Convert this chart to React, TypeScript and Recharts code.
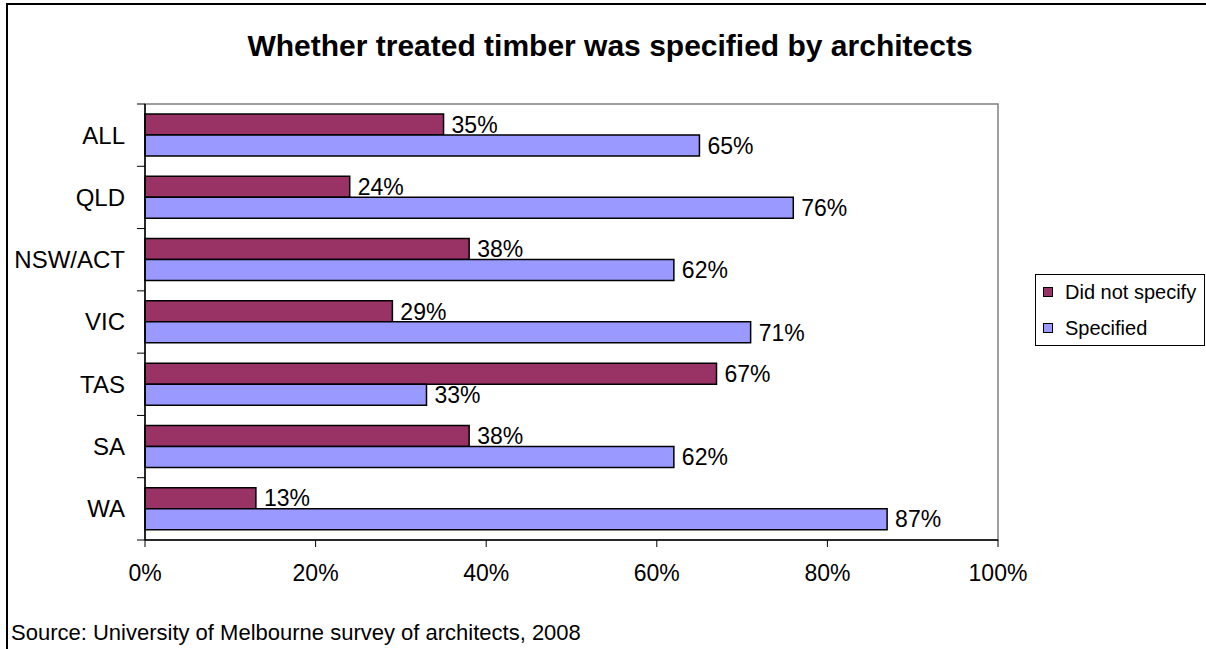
import { BarChart, Bar, XAxis, YAxis, LabelList, ReferenceArea } from 'recharts';

// values (percent of architects)
const categories = ['ALL', 'QLD', 'NSW/ACT', 'VIC', 'TAS', 'SA', 'WA'];
const didNotSpecify = [35, 24, 38, 29, 67, 38, 13];
const specified = [65, 76, 62, 71, 33, 62, 87];
const xTicks = [0, 20, 40, 60, 80, 100];

const series = [
  { key: 'didNotSpecify', name: 'Did not specify', color: '#993366' },
  { key: 'specified', name: 'Specified', color: '#9999FF' },
];

const data = categories.map((region, i) => ({
  region,
  didNotSpecify: didNotSpecify[i],
  specified: specified[i],
}));

const FONT = '"Liberation Sans", Arial, sans-serif';
const W = 1206;
const H = 649;
const PLOT_TOP = 104;
const PLOT_BOTTOM = 540;
const PLOT_LEFT = 145;
const PLOT_RIGHT = 998;
const BAND = (PLOT_BOTTOM - PLOT_TOP) / categories.length;

// Excel style: tick marks sit between categories, label in the middle
const CategoryTick = ({ x, y, payload, index }: any) => {
  const half = BAND / 2;
  const tx1 = x + 12;
  const tx2 = x + 20;
  return (
    <g>
      <line x1={tx1} x2={tx2} y1={y - half} y2={y - half} stroke="#000" strokeWidth={1} />
      {index === categories.length - 1 && (
        <line x1={tx1} x2={tx2} y1={y + half} y2={y + half} stroke="#000" strokeWidth={1} />
      )}
      <text x={x} y={y} dy="0.35em" textAnchor="end" fontSize={24} fill="#000" fontFamily={FONT}>
        {payload.value}
      </text>
    </g>
  );
};

export default function App() {
  return (
    <div
      style={{
        position: 'absolute',
        left: 0,
        top: 0,
        width: W,
        height: H,
        overflow: 'hidden',
        background: '#fff',
        fontFamily: FONT,
      }}
    >
      {/* outer frame, cut off on the right and bottom like the source image */}
      <div
        style={{
          position: 'absolute',
          left: 6,
          top: 3,
          width: 1300,
          height: 700,
          borderLeft: '2px solid #000',
          borderTop: '2px solid #000',
        }}
      />

      <div
        style={{
          position: 'absolute',
          left: 110,
          top: 31,
          width: 1000,
          textAlign: 'center',
          fontSize: 30,
          lineHeight: '30px',
          fontWeight: 700,
          whiteSpace: 'nowrap',
        }}
      >
        Whether treated timber was specified by architects
      </div>

      <div style={{ position: 'absolute', left: 0, top: 0 }}>
        <BarChart
          width={W}
          height={H}
          data={data}
          layout="vertical"
          margin={{ top: PLOT_TOP, right: W - PLOT_RIGHT, bottom: H - PLOT_BOTTOM - 40, left: 0 }}
          barCategoryGap={10}
          barGap={0}
        >
          <ReferenceArea x1={0} x2={100} fill="none" stroke="#808080" strokeWidth={1.5} />
          <XAxis
            type="number"
            domain={[0, 100]}
            ticks={xTicks}
            tickFormatter={(v: number) => `${v}%`}
            height={40}
            tickSize={7}
            tickMargin={18}
            axisLine={{ stroke: '#000', strokeWidth: 1.5 }}
            tickLine={{ stroke: '#000' }}
            tick={{ fontSize: 23, fill: '#000', fontFamily: FONT }}
          />
          <YAxis
            type="category"
            dataKey="region"
            width={PLOT_LEFT}
            tickSize={8}
            tickMargin={12}
            tickLine={false}
            axisLine={{ stroke: '#000', strokeWidth: 1.5 }}
            tick={<CategoryTick />}
            interval={0}
          />
          {series.map((s) => (
            <Bar
              key={s.key}
              dataKey={s.key}
              name={s.name}
              fill={s.color}
              stroke="#000"
              strokeWidth={1.5}
              isAnimationActive={false}
            >
              <LabelList
                dataKey={s.key}
                position="right"
                offset={8}
                formatter={(v: any) => `${v}%`}
                fill="#000"
                fontSize={23}
                fontFamily={FONT}
              />
            </Bar>
          ))}
        </BarChart>
      </div>

      {/* legend box */}
      <div
        style={{
          position: 'absolute',
          left: 1035,
          top: 274,
          width: 170,
          height: 72,
          border: '1px solid #000',
          boxSizing: 'border-box',
        }}
      >
        {series.map((s, i) => (
          <div
            key={s.key}
            style={{
              position: 'absolute',
              left: 7,
              top: 6 + i * 36,
              height: 22,
              display: 'flex',
              alignItems: 'center',
              fontSize: 20,
              whiteSpace: 'nowrap',
            }}
          >
            <span
              style={{
                display: 'inline-block',
                width: 8,
                height: 8,
                background: s.color,
                border: '1px solid #000',
                marginRight: 12,
              }}
            />
            {s.name}
          </div>
        ))}
      </div>

      <div
        style={{
          position: 'absolute',
          left: 11,
          top: 622,
          fontSize: 22,
          lineHeight: '22px',
          whiteSpace: 'nowrap',
        }}
      >
        Source: University of Melbourne survey of architects, 2008
      </div>
    </div>
  );
}
